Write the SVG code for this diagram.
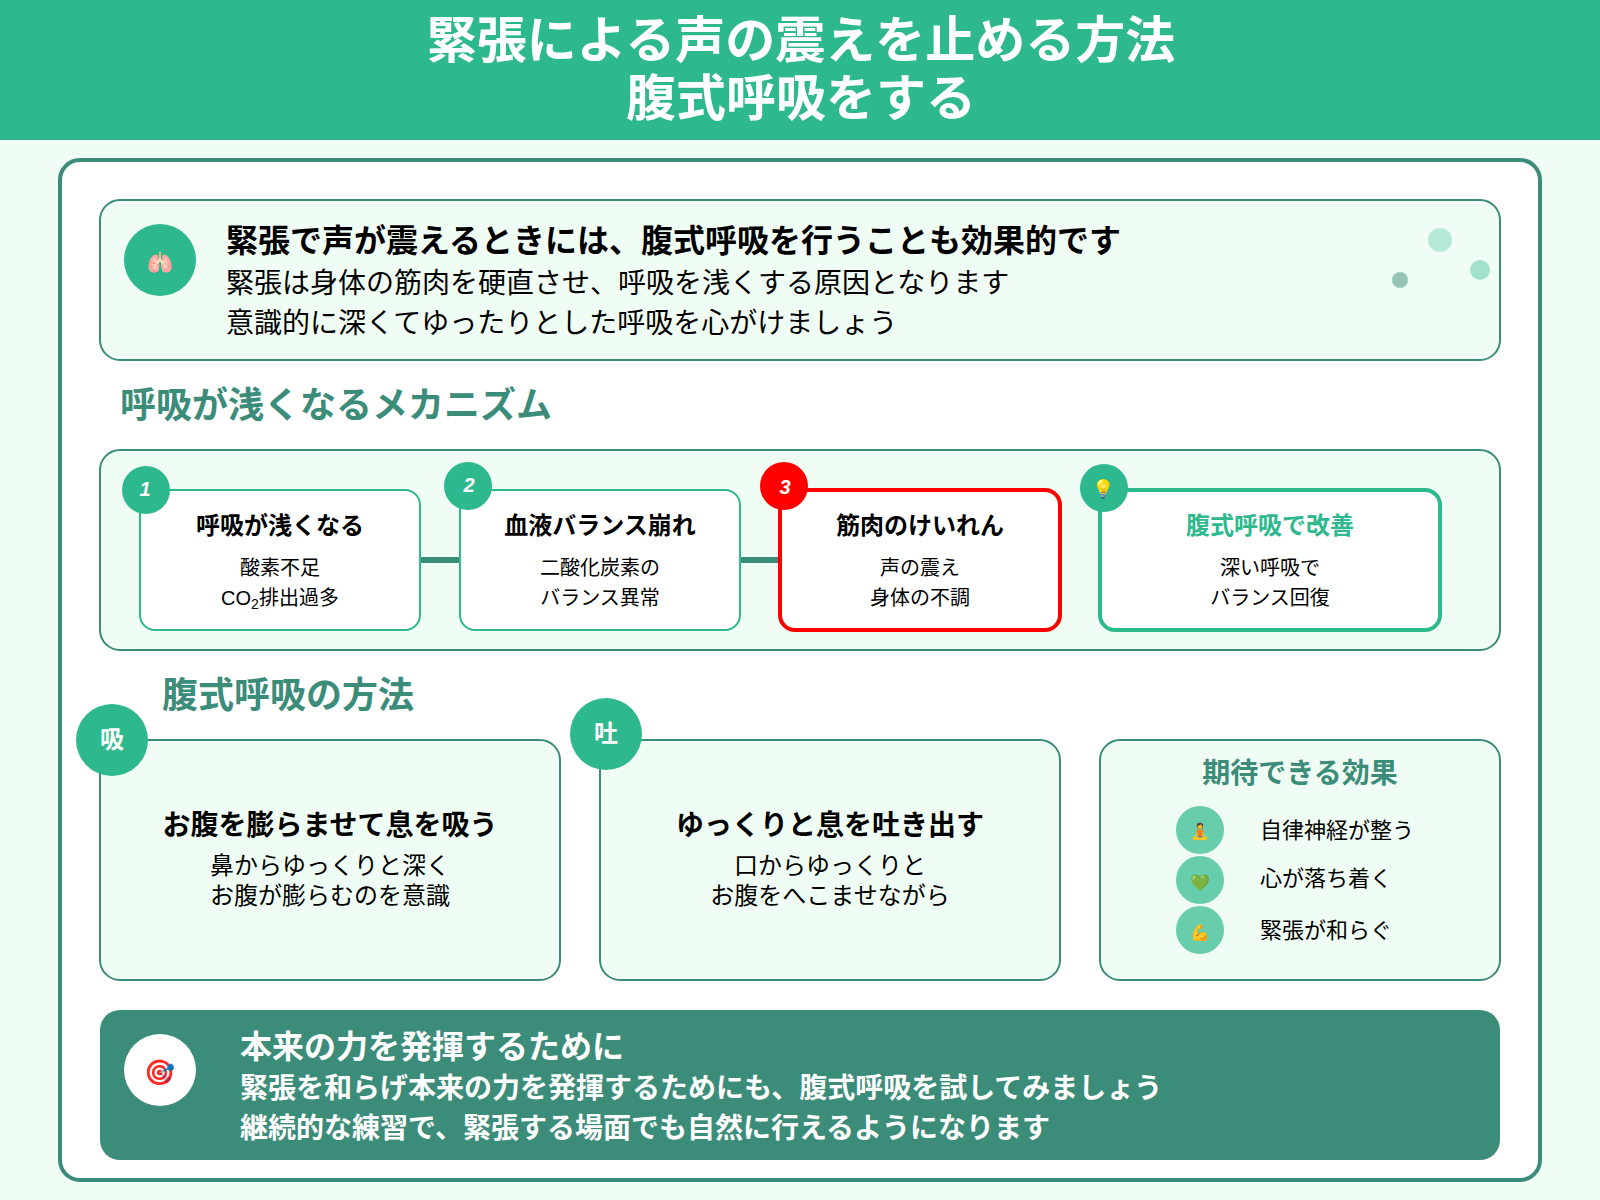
<svg xmlns="http://www.w3.org/2000/svg" width="1600" height="1200" viewBox="0 0 1600 1200">
<style>
text{font-family:"Noto Sans CJK JP","Noto Sans",sans-serif;fill:#000}
.c{text-anchor:middle}
.b{font-weight:700}
.w{fill:#fff}
.sec{fill:#3C8C7A;font-weight:700;font-size:36px}
.panel{fill:#F0FDF4;stroke:#3C8C7A;stroke-width:2}
.step{fill:#fff;stroke:#2DB88E;stroke-width:2}
.st{font-size:24px;font-weight:700;text-anchor:middle}
.sb{font-size:20px;text-anchor:middle}
.num{font-family:"Liberation Sans",sans-serif;font-size:20px;font-weight:700;font-style:italic;text-anchor:middle;fill:#fff}
.lat{font-family:"Liberation Sans",sans-serif}
.g{fill:#2DB88E}
.eff{fill:#2DB88E;fill-opacity:.7}
.effT{font-size:22px}
.emoji{text-anchor:middle;font-family:"Noto Color Emoji","Apple Color Emoji",sans-serif}
.conn{stroke:#3C8C7A;stroke-width:6;fill:none}
</style>
<rect width="1600" height="1200" fill="#F0FDF4"/>
<g id="header">
<rect width="1600" height="140" fill="#2DB88E"/>
<text class="c b w" x="801" y="58" font-size="50">緊張による声の震えを止める方法</text>
<text class="c b w" x="801" y="116" font-size="50">腹式呼吸をする</text>
</g>
<rect id="main-panel" x="60" y="160" width="1480" height="1020" rx="20" fill="#fff" stroke="#3C8C7A" stroke-width="4"/>
<g id="intro">
<rect class="panel" x="100" y="200" width="1400" height="160" rx="20"/>
<circle class="g" cx="160" cy="260" r="36"/>
<text class="emoji" x="160" y="270" font-size="21">🫁</text>
<text class="b" x="226" y="252" font-size="32">緊張で声が震えるときには、腹式呼吸を行うことも効果的です</text>
<text x="226" y="292.5" font-size="28">緊張は身体の筋肉を硬直させ、呼吸を浅くする原因となります</text>
<text x="226" y="332.5" font-size="28">意識的に深くてゆったりとした呼吸を心がけましょう</text>
<circle cx="1440" cy="240" r="12" fill="#2DB88E" fill-opacity=".3"/>
<circle cx="1480" cy="270" r="10" fill="#2DB88E" fill-opacity=".4"/>
<circle cx="1400" cy="280" r="8" fill="#3C8C7A" fill-opacity=".5"/>
</g>
<text id="mechanism-title" class="sec" x="120" y="418">呼吸が浅くなるメカニズム</text>
<rect id="mechanism-panel" class="panel" x="100" y="450" width="1400" height="200" rx="20"/>
<g id="connectors">
<line class="conn" x1="420" y1="560" x2="460" y2="560"/>
<line class="conn" x1="740" y1="560" x2="780" y2="560"/>
</g>
<g id="step1">
<rect class="step" x="140" y="490" width="280" height="140" rx="15"/>
<circle class="g" cx="146" cy="490" r="24"/>
<text class="num" x="145" y="496">1</text>
<text class="st" x="280" y="534">呼吸が浅くなる</text>
<text class="sb" x="280" y="574.5">酸素不足</text>
<text class="sb" x="280" y="605"><tspan class="lat">CO</tspan><tspan class="lat" font-size="14" dy="4">2</tspan><tspan dy="-4">排出過多</tspan></text>
</g>
<g id="step2">
<rect class="step" x="460" y="490" width="280" height="140" rx="15"/>
<circle class="g" cx="468" cy="486" r="24"/>
<text class="num" x="469" y="492">2</text>
<text class="st" x="600" y="534">血液バランス崩れ</text>
<text class="sb" x="600" y="574.5">二酸化炭素の</text>
<text class="sb" x="600" y="605">バランス異常</text>
</g>
<g id="step3">
<rect x="780" y="490" width="280" height="140" rx="15" fill="#fff" stroke="#f00" stroke-width="4"/>
<circle cx="784" cy="486" r="24" fill="#f00"/>
<text class="num" x="785" y="494">3</text>
<text class="st" x="920" y="534">筋肉のけいれん</text>
<text class="sb" x="920" y="574.5">声の震え</text>
<text class="sb" x="920" y="605">身体の不調</text>
</g>
<g id="step4">
<rect x="1100" y="490" width="340" height="140" rx="15" fill="#fff" stroke="#2DB88E" stroke-width="4"/>
<circle class="g" cx="1104" cy="488" r="24"/>
<text class="emoji" x="1104" y="495" font-size="18">💡</text>
<text class="st" x="1270" y="534" style="fill:#2DB88E">腹式呼吸で改善</text>
<text class="sb" x="1270" y="574.5">深い呼吸で</text>
<text class="sb" x="1270" y="605">バランス回復</text>
</g>
<text id="method-title" class="sec" x="162" y="708">腹式呼吸の方法</text>
<g id="inhale">
<rect class="panel" x="100" y="740" width="460" height="240" rx="20"/>
<circle class="g" cx="112" cy="740" r="36"/>
<text class="c b w" x="112" y="748" font-size="24">吸</text>
<text class="c b" x="330" y="834.5" font-size="28">お腹を膨らませて息を吸う</text>
<text class="c" x="330" y="874" font-size="24">鼻からゆっくりと深く</text>
<text class="c" x="330" y="904" font-size="24">お腹が膨らむのを意識</text>
</g>
<g id="exhale">
<rect class="panel" x="600" y="740" width="460" height="240" rx="20"/>
<circle class="g" cx="606" cy="734" r="36"/>
<text class="c b w" x="606" y="742" font-size="24">吐</text>
<text class="c b" x="830" y="834.5" font-size="28">ゆっくりと息を吐き出す</text>
<text class="c" x="830" y="874" font-size="24">口からゆっくりと</text>
<text class="c" x="830" y="904" font-size="24">お腹をへこませながら</text>
</g>
<g id="effects">
<rect class="panel" x="1100" y="740" width="400" height="240" rx="20"/>
<text class="c b" x="1300" y="782.5" font-size="28" style="fill:#3C8C7A">期待できる効果</text>
<circle class="eff" cx="1200" cy="830" r="24"/>
<text class="emoji" x="1200" y="837" font-size="16">🧘</text>
<text class="effT" x="1260" y="837.5">自律神経が整う</text>
<circle class="eff" cx="1200" cy="880" r="24"/>
<text class="emoji" x="1200" y="888" font-size="16">💚</text>
<text class="effT" x="1260" y="885.5">心が落ち着く</text>
<circle class="eff" cx="1200" cy="930" r="24"/>
<text class="emoji" x="1200" y="938" font-size="16">💪</text>
<text class="effT" x="1260" y="937.5">緊張が和らぐ</text>
</g>
<g id="conclusion">
<rect x="100" y="1010" width="1400" height="150" rx="20" fill="#3C8C7A"/>
<circle cx="160" cy="1070" r="36" fill="#fff"/>
<text class="emoji" x="160" y="1081" font-size="25">🎯</text>
<text class="b w" x="240" y="1058" font-size="32">本来の力を発揮するために</text>
<text class="b w" x="240" y="1098" font-size="28">緊張を和らげ本来の力を発揮するためにも、腹式呼吸を試してみましょう</text>
<text class="b w" x="240" y="1138" font-size="28">継続的な練習で、緊張する場面でも自然に行えるようになります</text>
</g>
</svg>
